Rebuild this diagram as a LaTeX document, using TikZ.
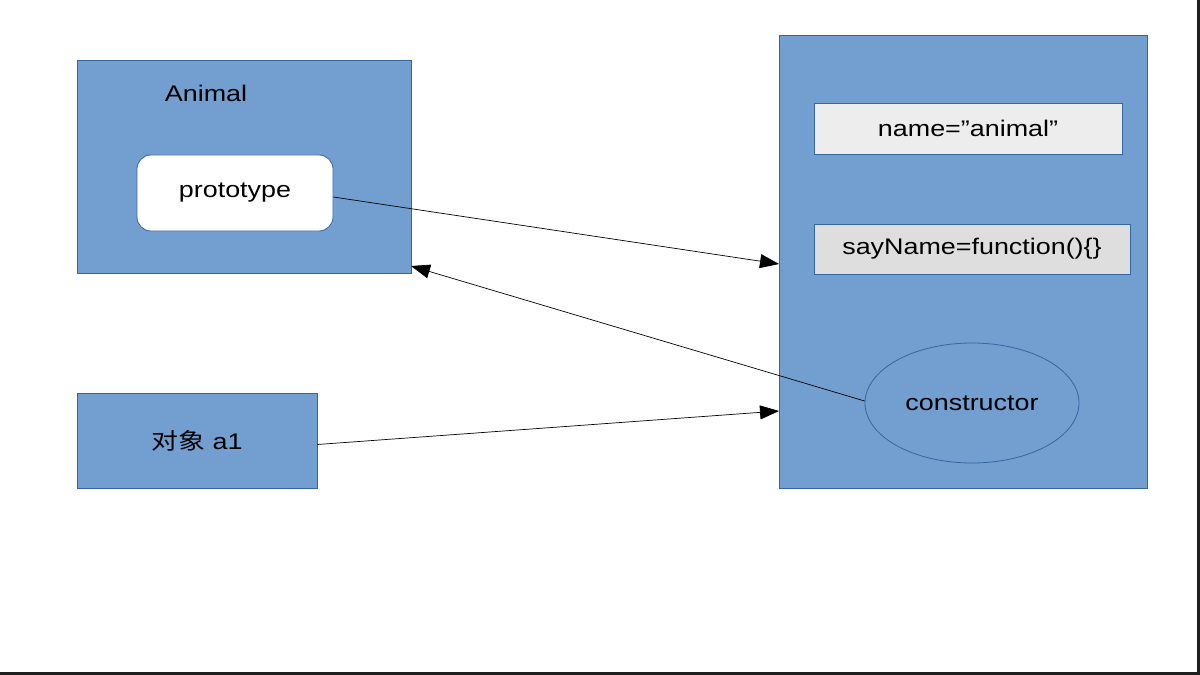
\documentclass[tikz,border=0pt]{standalone}
\usepackage{fontspec}
\setmainfont{Liberation Sans}
\newfontfamily\cjk{Noto Sans CJK SC}
\usepackage{tikz}
\usetikzlibrary{arrows.meta,shapes.geometric,positioning}
\definecolor{kasten}{HTML}{729FCF}
\definecolor{rand}{HTML}{3465A4}
\newcommand{\breit}[1]{\scalebox{1.19}[1]{#1}}
\tikzset{
  blau/.style={draw=rand,fill=kasten,line width=0.8bp,inner sep=0pt},
  feld/.style={draw=rand,line width=0.8bp,inner sep=0pt,font=\fontsize{22.6bp}{27bp}\selectfont},
  pfeil/.style={-{Triangle[length=19bp,width=14bp]},line width=0.7bp}
}
\begin{document}
\begin{tikzpicture}[x=1bp,y=-1bp]
    		\useasboundingbox (0,0) rectangle (1200,675);
    		% Rahmen
    		\fill[black!88] (0,672) rectangle (1200,675);
    		\fill[black!88] (1197,0) rectangle (1200,675);
    		% Kasten Animal
    		\node[blau,minimum width=334bp,minimum height=213bp] (animal) at (244,166.5) {};
    		\node[feld,draw=none] (animaltxt) at (206,93) {\breit{Animal}};
    		\node[feld,fill=white,rounded corners=14bp,minimum width=196bp,minimum height=76bp] (proto) at (235,193) {\breit{prototype}};
    		% Kasten a1
    		\node[blau,feld,minimum width=240bp,minimum height=95bp] (a1) at (197,440.5) {\breit{{\cjk 对象} a1}};
    		% Kasten rechts
    		\node[blau,minimum width=368bp,minimum height=453bp] (obj) at (963,261.5) {};
    		\node[feld,fill=black!7,minimum width=308bp,minimum height=51bp] (name) at (968,128.5) {\breit{name=”animal”}};
    		\node[feld,fill=black!13,minimum width=316bp,minimum height=50bp] (say) at (972,249) {\breit{sayName=function()\{\}}};
    		\node[blau,feld,ellipse,minimum width=214bp,minimum height=120bp] (cons) at (972,403) {\breit{constructor}};
    		% Pfeile
    		\coordinate (z1) at (779,264);
    		\coordinate (z2) at (411,266);
    		\coordinate (z3) at (779,411);
    		\draw[pfeil] ([yshift=-4bp]proto.east) -- (z1);
    		\draw[pfeil] ([yshift=2bp]cons.west) -- (z2);
    		\draw[pfeil] ([yshift=-4bp]a1.east) -- (z3);
\end{tikzpicture}
\end{document}
